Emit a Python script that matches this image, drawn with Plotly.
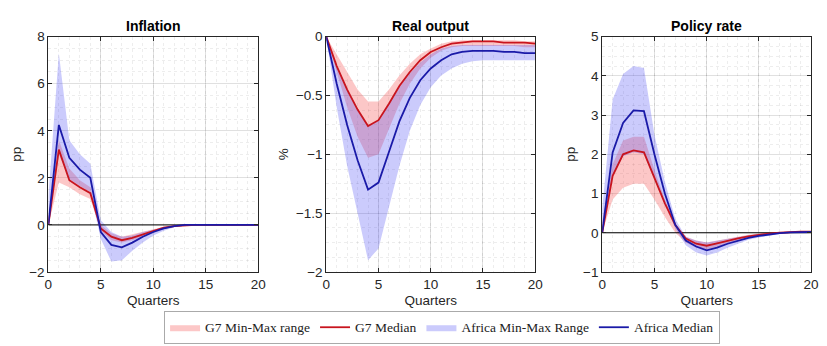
import plotly.graph_objects as go

quarters = list(range(21))
titles = ["Inflation", "Real output", "Policy rate"]
ylabels = ["pp", "%", "pp"]

# Inflation
inf_g7_med = [0, 3.2, 1.9, 1.6, 1.35, -0.15, -0.5, -0.65, -0.55, -0.4, -0.25, -0.12, -0.05, -0.01, 0, 0, 0, 0, 0, 0, 0]
inf_g7_hi = [0.3, 3.6, 2.4, 1.9, 1.6, 0.0, -0.35, -0.5, -0.4, -0.3, -0.18, -0.08, -0.03, 0, 0, 0, 0, 0, 0, 0, 0]
inf_g7_lo = [0, 1.8, 1.6, 1.3, 1.1, -0.25, -0.65, -0.75, -0.65, -0.5, -0.3, -0.16, -0.07, -0.02, 0, 0, 0, 0, 0, 0, 0]
inf_af_med = [0, 4.25, 2.85, 2.35, 2.0, -0.3, -0.85, -0.95, -0.75, -0.5, -0.3, -0.15, -0.05, 0, 0, 0, 0, 0, 0, 0, 0]
inf_af_hi = [1.2, 7.3, 3.6, 3.0, 2.6, 0.2, -0.3, -0.5, -0.45, -0.3, -0.2, -0.1, -0.02, 0, 0, 0, 0, 0, 0, 0, 0]
inf_af_lo = [0, 3.0, 1.95, 1.65, 1.4, -0.6, -1.55, -1.5, -1.1, -0.75, -0.45, -0.25, -0.1, -0.03, 0, 0, 0, 0, 0, 0, 0]

# Real output
out_g7_med = [0, -0.25, -0.45, -0.62, -0.76, -0.71, -0.57, -0.42, -0.3, -0.2, -0.13, -0.09, -0.06, -0.05, -0.04, -0.04, -0.04, -0.05, -0.05, -0.05, -0.06]
out_g7_hi = [0, -0.15, -0.3, -0.45, -0.55, -0.55, -0.45, -0.33, -0.23, -0.15, -0.1, -0.06, -0.04, -0.03, -0.03, -0.03, -0.03, -0.03, -0.03, -0.04, -0.04]
out_g7_lo = [0, -0.3, -0.6, -0.85, -1.03, -1.0, -0.78, -0.57, -0.4, -0.27, -0.18, -0.12, -0.09, -0.08, -0.08, -0.08, -0.08, -0.08, -0.08, -0.09, -0.09]
out_af_med = [0, -0.4, -0.75, -1.05, -1.3, -1.24, -0.98, -0.72, -0.52, -0.37, -0.27, -0.2, -0.15, -0.13, -0.12, -0.12, -0.12, -0.13, -0.13, -0.14, -0.14]
out_af_hi = [0, -0.24, -0.44, -0.62, -0.76, -0.71, -0.57, -0.43, -0.31, -0.22, -0.15, -0.1, -0.08, -0.07, -0.07, -0.07, -0.07, -0.07, -0.07, -0.07, -0.07]
out_af_lo = [0, -0.6, -1.1, -1.5, -1.9, -1.8, -1.45, -1.1, -0.8, -0.58, -0.43, -0.33, -0.27, -0.23, -0.21, -0.2, -0.2, -0.2, -0.2, -0.2, -0.2]

# Policy rate
pol_g7_med = [0, 1.45, 2.0, 2.1, 2.05, 1.4, 0.75, 0.2, -0.15, -0.28, -0.33, -0.27, -0.2, -0.14, -0.09, -0.05, -0.02, 0, 0.02, 0.03, 0.03]
pol_g7_hi = [0.3, 1.75, 2.35, 2.45, 2.45, 1.6, 0.85, 0.25, -0.1, -0.2, -0.25, -0.2, -0.14, -0.09, -0.05, -0.02, 0, 0.02, 0.03, 0.04, 0.04]
pol_g7_lo = [0, 0.85, 1.15, 1.25, 1.25, 0.85, 0.4, 0.0, -0.25, -0.38, -0.42, -0.36, -0.28, -0.2, -0.13, -0.08, -0.04, -0.01, 0.01, 0.02, 0.02]
pol_af_med = [0, 2.05, 2.8, 3.12, 3.1, 2.0, 1.0, 0.2, -0.2, -0.35, -0.45, -0.38, -0.28, -0.2, -0.13, -0.08, -0.04, -0.01, 0.01, 0.02, 0.02]
pol_af_hi = [0.6, 3.4, 4.05, 4.25, 4.2, 2.5, 1.3, 0.35, -0.1, -0.2, -0.25, -0.2, -0.15, -0.1, -0.06, -0.03, -0.01, 0.01, 0.03, 0.04, 0.04]
pol_af_lo = [0, 1.45, 1.95, 2.05, 2.0, 1.35, 0.7, 0.1, -0.32, -0.5, -0.58, -0.5, -0.38, -0.27, -0.18, -0.12, -0.07, -0.03, -0.01, 0, 0]

panels = [
    (inf_g7_med, inf_g7_hi, inf_g7_lo, inf_af_med, inf_af_hi, inf_af_lo, [-2, 8], 2, 0.5, True),
    (out_g7_med, out_g7_hi, out_g7_lo, out_af_med, out_af_hi, out_af_lo, [-2, 0], 0.5, 0.125, False),
    (pol_g7_med, pol_g7_hi, pol_g7_lo, pol_af_med, pol_af_hi, pol_af_lo, [-1, 5], 1, 0.25, True),
]

G7_FILL = "rgba(245,80,80,0.32)"
AF_FILL = "rgba(70,70,245,0.28)"
G7_LINE = "#C8141E"
AF_LINE = "#1A1AA8"

W, H = 827, 346
xdom = [(45 / W, 258 / W), (327 / W, 539 / W), (607 / W, 819 / W)]
ydom = (1 - 277 / H, 1 - 31 / H)
FONT = "Liberation Sans, Arial"

fig = go.Figure()
for i, (gm, gh, gl, am, ah, al, yr, dt, mdt, zero) in enumerate(panels):
    ax = "" if i == 0 else str(i + 1)
    xa, ya = "x" + ax, "y" + ax
    show = i == 0
    fig.add_trace(go.Scatter(x=quarters, y=gl, mode="lines", line=dict(width=0), xaxis=xa, yaxis=ya,
                             showlegend=False, hoverinfo="skip"))
    fig.add_trace(go.Scatter(x=quarters, y=gh, mode="lines", line=dict(width=0), fill="tonexty",
                             fillcolor=G7_FILL, xaxis=xa, yaxis=ya, name="G7 Min-Max range",
                             showlegend=show, legendrank=1))
    fig.add_trace(go.Scatter(x=quarters, y=al, mode="lines", line=dict(width=0), xaxis=xa, yaxis=ya,
                             showlegend=False, hoverinfo="skip"))
    fig.add_trace(go.Scatter(x=quarters, y=ah, mode="lines", line=dict(width=0), fill="tonexty",
                             fillcolor=AF_FILL, xaxis=xa, yaxis=ya, name="Africa Min-Max Range",
                             showlegend=show, legendrank=3))
    if zero:
        fig.add_trace(go.Scatter(x=[0, 20], y=[0, 0], mode="lines", line=dict(color="black", width=1),
                                 xaxis=xa, yaxis=ya, showlegend=False, hoverinfo="skip"))
    fig.add_trace(go.Scatter(x=quarters, y=gm, mode="lines", line=dict(color=G7_LINE, width=1.8),
                             xaxis=xa, yaxis=ya, name="G7 Median", showlegend=show, legendrank=2))
    fig.add_trace(go.Scatter(x=quarters, y=am, mode="lines", line=dict(color=AF_LINE, width=1.8),
                             xaxis=xa, yaxis=ya, name="Africa Median", showlegend=show, legendrank=4))

    common = dict(showline=True, linecolor="#262626", linewidth=1, mirror="ticks", ticks="inside",
                  ticklen=4, tickcolor="#262626", zeroline=False, showgrid=True,
                  gridcolor="rgba(0,0,0,0.12)", tickfont=dict(family=FONT, size=13.5, color="#262626"))
    fig.layout["xaxis" + ax] = dict(domain=xdom[i], range=[0, 20], tickvals=[0, 5, 10, 15, 20],
                                    anchor=ya,
                                    title=dict(text="Quarters", font=dict(family=FONT, size=13.5, color="#262626"), standoff=4),
                                    minor=dict(dtick=1, showgrid=True, gridcolor="rgba(0,0,0,0.07)", griddash="dot", ticks=""),
                                    **common)
    fig.layout["yaxis" + ax] = dict(domain=ydom, range=yr, dtick=dt, anchor=xa,
                                    title=dict(text=ylabels[i], font=dict(family=FONT, size=13.5, color="#262626"), standoff=4),
                                    minor=dict(dtick=mdt, showgrid=True, gridcolor="rgba(0,0,0,0.07)", griddash="dot", ticks=""),
                                    **common)
    fig.add_annotation(text="<b>" + titles[i] + "</b>", x=(xdom[i][0] + xdom[i][1]) / 2, y=ydom[1],
                       xref="paper", yref="paper", xanchor="center", yanchor="bottom", yshift=1,
                       showarrow=False, font=dict(family=FONT, size=14, color="black"))

fig.update_layout(
    width=W, height=H, margin=dict(l=0, r=0, t=0, b=0),
    paper_bgcolor="white", plot_bgcolor="white",
    legend=dict(orientation="h", x=0.5375, y=-0.018, xanchor="center", yanchor="bottom",
                bordercolor="#AAAAAA", borderwidth=1, bgcolor="white",
                font=dict(family="Liberation Serif, Times New Roman", size=13.5, color="#222222"),
                itemwidth=30, tracegroupgap=0, traceorder="normal"),
)

fig.write_html("out.html")
